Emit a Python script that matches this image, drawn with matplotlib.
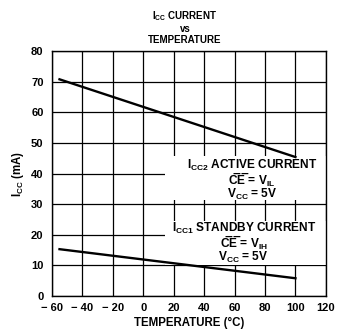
import matplotlib
matplotlib.use("Agg")
import matplotlib.pyplot as plt
from matplotlib.patches import Rectangle

plt.rcParams['font.family'] = ['Liberation Sans', 'DejaVu Sans']
plt.rcParams['font.weight'] = 'bold'
plt.rcParams['axes.labelweight'] = 'bold'
plt.rcParams['mathtext.fontset'] = 'custom'
plt.rcParams['mathtext.rm'] = 'Liberation Sans:bold'
plt.rcParams['mathtext.it'] = 'Liberation Sans:bold'
plt.rcParams['mathtext.bf'] = 'Liberation Sans:bold'
plt.rcParams['mathtext.default'] = 'regular'

# Data
temp = [-55, 100]
icc2_active = [70.8, 45.4]
icc1_standby = [15.3, 5.8]
xticks = [-60, -40, -20, 0, 20, 40, 60, 80, 100, 120]
xticklabels = ['\u2212 60', '\u2212 40', '\u2212 20', '0', '20', '40', '60', '80', '100', '120']
yticks = [0, 10, 20, 30, 40, 50, 60, 70, 80]

fig = plt.figure(figsize=(3.37, 3.30), dpi=100)
ax = fig.add_axes([0.154, 0.103, 0.813, 0.742])
ax.set_xlim(-60, 120)
ax.set_ylim(0, 80)
ax.set_xticks(xticks)
ax.set_xticklabels(xticklabels)
ax.set_yticks(yticks)
ax.tick_params(length=0, labelsize=8, colors='black')
ax.tick_params(axis='x', pad=5)
ax.tick_params(axis='y', pad=6)
ax.grid(True, color='black', linewidth=0.9)
ax.set_axisbelow(True)
for s in ax.spines.values():
    s.set_linewidth(1.0)
    s.set_color('black')

ax.plot(temp, icc2_active, color='black', linewidth=1.7, zorder=3)
ax.plot(temp, icc1_standby, color='black', linewidth=1.7, zorder=3)

# white label backgrounds
ax.add_patch(Rectangle((14, 31.5), 106, 14.3, facecolor='white', edgecolor='none', zorder=2))
ax.add_patch(Rectangle((14, 10.2), 106, 14.2, facecolor='white', edgecolor='none', zorder=2))

fs = 8.6
ce = 'C\u0305E\u0305'
active_label = 'I$_{CC2}$ ACTIVE CURRENT\n' + ce + ' = V$_{IL}$\nV$_{CC}$ = 5V'
standby_label = 'I$_{CC1}$ STANDBY CURRENT\n' + ce + ' = V$_{IH}$\nV$_{CC}$ = 5V'
ax.text(71.5, 38.0, active_label, ha='center', va='center', multialignment='center',
        fontsize=fs, linespacing=0.85, zorder=4)
ax.text(66, 17.4, standby_label, ha='center', va='center', multialignment='center',
        fontsize=fs, linespacing=0.85, zorder=4)

fig.text(0.549, 0.917, 'I$_{CC}$ CURRENT\nvs\nTEMPERATURE', ha='center', va='center',
         multialignment='center', fontsize=7, linespacing=1.15)

ax.set_xlabel('TEMPERATURE (\u00b0C)', fontsize=8.3, labelpad=3)
ax.set_ylabel('I$_{CC}$ (mA)', fontsize=8.3, labelpad=4)

fig.savefig('out.png', dpi=100)
